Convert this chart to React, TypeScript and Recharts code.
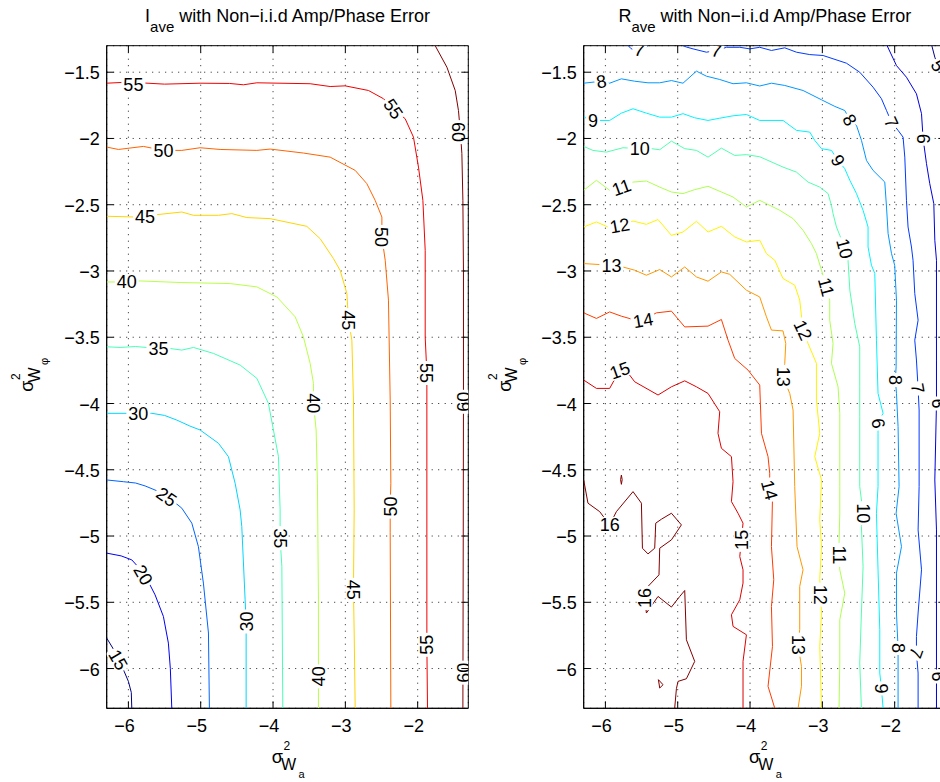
import React from 'react';
import { ScatterChart, Scatter, XAxis, YAxis, CartesianGrid, ReferenceArea } from 'recharts';

type P = [number, number];
type Lbl = { x: number; y: number; v: number; a: number };

const FONT = '"Liberation Sans", Arial, Helvetica, sans-serif';

// ---------- axes ----------
const xTicks = [-6, -5, -4, -3, -2];
const yTicks = [-6, -5.5, -5, -4.5, -4, -3.5, -3, -2.5, -2, -1.5];
const axisDomain: [number, number] = [-6.3, -1.3];

// ---------- left panel: I_ave contours ----------
const I15: P[] = [[-6.3,-5.77],[-6.2,-5.86],[-6.138,-5.933],[-6.06,-6.02],[-6.0,-6.097],[-5.96,-6.18],[-5.953,-6.3]];
const I20: P[] = [[-6.3,-5.129],[-6.1,-5.15],[-5.953,-5.18],[-5.87,-5.23],[-5.793,-5.293],[-5.7,-5.37],[-5.631,-5.444],[-5.516,-5.607],[-5.447,-5.808],[-5.42,-6.0],[-5.4,-6.3]];
const I25: P[] = [[-6.3,-4.577],[-6.069,-4.59],[-5.9,-4.6],[-5.769,-4.622],[-5.6,-4.66],[-5.469,-4.703],[-5.35,-4.75],[-5.261,-4.79],[-5.123,-4.903],[-5.032,-5.08],[-4.963,-5.355],[-4.893,-5.732],[-4.88,-6.3]];
const I30: P[] = [[-6.3,-4.074],[-6.0,-4.074],[-5.862,-4.074],[-5.676,-4.074],[-5.5,-4.09],[-5.331,-4.125],[-5.15,-4.17],[-5.008,-4.2],[-4.755,-4.3],[-4.617,-4.401],[-4.524,-4.602],[-4.455,-4.803],[-4.432,-4.929],[-4.386,-5.481],[-4.372,-5.645],[-4.372,-6.3]];
const I35: P[] = [[-6.3,-3.572],[-6.115,-3.577],[-5.9,-3.57],[-5.585,-3.585],[-5.423,-3.585],[-5.261,-3.597],[-5.1,-3.577],[-4.824,-3.622],[-4.455,-3.71],[-4.224,-3.81],[-4.064,-3.999],[-3.925,-4.401],[-3.902,-4.803],[-3.902,-5.016],[-3.878,-5.23],[-3.865,-6.3]];
const I40: P[] = [[-6.3,-3.083],[-6.022,-3.083],[-5.838,-3.075],[-5.285,-3.087],[-4.593,-3.095],[-4.224,-3.12],[-3.947,-3.196],[-3.694,-3.346],[-3.58,-3.497],[-3.487,-3.697],[-3.441,-3.848],[-3.441,-3.999],[-3.404,-4.2],[-3.386,-4.602],[-3.38,-4.979],[-3.372,-5.476],[-3.372,-6.3]];
const I45: P[] = [[-6.3,-2.587],[-5.884,-2.593],[-5.769,-2.587],[-5.607,-2.575],[-5.261,-2.555],[-5.1,-2.58],[-4.755,-2.58],[-4.57,-2.567],[-4.362,-2.597],[-4.04,-2.605],[-3.533,-2.663],[-3.349,-2.756],[-3.165,-2.906],[-3.072,-2.996],[-2.979,-3.17],[-2.957,-3.371],[-2.91,-3.522],[-2.888,-3.974],[-2.878,-4.803],[-2.888,-5.406],[-2.878,-5.732],[-2.864,-6.3]];
const I50: P[] = [[-6.3,-2.065],[-6.138,-2.083],[-5.793,-2.06],[-5.516,-2.09],[-5.261,-2.09],[-5.008,-2.07],[-4.732,-2.083],[-4.224,-2.09],[-4.04,-2.08],[-3.58,-2.11],[-3.21,-2.141],[-2.864,-2.241],[-2.703,-2.341],[-2.588,-2.467],[-2.495,-2.593],[-2.495,-2.743],[-2.449,-2.919],[-2.404,-3.22],[-2.38,-3.974],[-2.371,-4.602],[-2.38,-4.778],[-2.38,-4.976],[-2.371,-6.3]];
const I55: P[] = [[-6.3,-1.583],[-6.0,-1.575],[-5.5,-1.59],[-5.008,-1.583],[-4.6,-1.585],[-4.41,-1.595],[-4.224,-1.58],[-3.487,-1.587],[-3.21,-1.608],[-3.003,-1.603],[-2.68,-1.638],[-2.473,-1.7],[-2.335,-1.776],[-2.173,-1.851],[-2.058,-1.99],[-1.989,-2.216],[-1.928,-2.467],[-1.896,-2.844],[-1.896,-3.5],[-1.873,-3.77],[-1.873,-4.5],[-1.873,-5.821],[-1.864,-6.3]];
const I60: P[] = [[-1.758,-1.3],[-1.596,-1.462],[-1.481,-1.638],[-1.436,-1.789],[-1.41,-1.95],[-1.389,-2.113],[-1.375,-2.467],[-1.367,-3.0],[-1.367,-4.0],[-1.37,-5.0],[-1.375,-6.3]];

const iLevels = [15, 20, 25, 30, 35, 40, 45, 50, 55, 60];
const iColors = ['#000080', '#0000F1', '#0063FF', '#00D4FF', '#47FFB8', '#B8FF47', '#FFD400', '#FF6300', '#F10000', '#800000'];
const iLines: P[][] = [I15, I20, I25, I30, I35, I40, I45, I50, I55, I60];

const iLabels: Lbl[] = [
  { x: -5.931, y: -1.593, v: 55, a: 0 }, { x: -2.335, y: -1.776, v: 55, a: 55 }, { x: -1.873, y: -3.77, v: 55, a: 90 }, { x: -1.873, y: -5.821, v: 55, a: -90 },
  { x: -1.44, y: -1.952, v: 60, a: 90 }, { x: -1.367, y: -3.987, v: 60, a: -90 }, { x: -1.367, y: -6.031, v: 60, a: -90 },
  { x: -5.516, y: -2.09, v: 50, a: 0 }, { x: -2.495, y: -2.743, v: 50, a: 90 }, { x: -2.38, y: -4.778, v: 50, a: -90 },
  { x: -5.769, y: -2.587, v: 45, a: 0 }, { x: -2.957, y: -3.371, v: 45, a: 90 }, { x: -2.888, y: -5.406, v: 45, a: 90 },
  { x: -6.022, y: -3.083, v: 40, a: 0 }, { x: -3.441, y: -3.999, v: 40, a: 90 }, { x: -3.372, y: -6.059, v: 40, a: -90 },
  { x: -5.585, y: -3.585, v: 35, a: 0 }, { x: -3.902, y: -5.016, v: 35, a: 90 },
  { x: -5.862, y: -4.074, v: 30, a: 0 }, { x: -4.372, y: -5.645, v: 30, a: -90 },
  { x: -5.469, y: -4.703, v: 25, a: 35 },
  { x: -5.793, y: -5.293, v: 20, a: 60 },
  { x: -6.138, y: -5.933, v: 15, a: 60 },
];

// ---------- right panel: R_ave contours ----------
const R5: P[] = [[-1.491,-1.29],[-1.445,-1.387],[-1.378,-1.487],[-1.29,-1.6]];
const R6: P[] = [[-2.113,-1.29],[-1.975,-1.45],[-1.837,-1.538],[-1.699,-1.663],[-1.629,-1.813],[-1.607,-2.002],[-1.56,-2.19],[-1.515,-2.341],[-1.459,-2.492],[-1.445,-2.768],[-1.422,-2.919],[-1.422,-3.672],[-1.422,-4.0],[-1.445,-4.577],[-1.422,-4.954],[-1.422,-6.06],[-1.422,-6.3]];
const R7a: P[] = [[-5.7,-1.29],[-5.65,-1.32],[-5.609,-1.333],[-5.526,-1.33],[-5.45,-1.32],[-5.4,-1.29]];
const R7b: P[] = [[-4.972,-1.29],[-4.88,-1.31],[-4.788,-1.324],[-4.603,-1.349],[-4.465,-1.336],[-4.326,-1.312],[-4.142,-1.312],[-4.004,-1.324],[-3.866,-1.312],[-3.704,-1.336],[-3.52,-1.316],[-3.358,-1.349],[-3.174,-1.367],[-2.99,-1.374],[-2.667,-1.432],[-2.483,-1.5],[-2.299,-1.613],[-2.183,-1.7],[-2.113,-1.789],[-2.044,-1.877],[-1.953,-1.939],[-1.884,-1.99],[-1.86,-2.141],[-1.837,-2.467],[-1.815,-2.668],[-1.768,-2.819],[-1.746,-2.919],[-1.722,-3.17],[-1.676,-3.371],[-1.722,-3.522],[-1.699,-3.672],[-1.676,-3.886],[-1.662,-4.049],[-1.662,-4.627],[-1.676,-4.954],[-1.629,-5.255],[-1.676,-5.581],[-1.699,-5.758],[-1.699,-5.883],[-1.676,-6.034],[-1.676,-6.3]];
const R8: P[] = [[-6.3,-1.583],[-6.055,-1.568],[-5.941,-1.583],[-5.779,-1.55],[-5.595,-1.568],[-5.411,-1.58],[-5.249,-1.58],[-5.087,-1.563],[-4.927,-1.583],[-4.741,-1.492],[-4.603,-1.53],[-4.419,-1.555],[-4.235,-1.587],[-4.05,-1.58],[-3.866,-1.604],[-3.704,-1.583],[-3.52,-1.6],[-3.267,-1.638],[-3.012,-1.708],[-2.828,-1.758],[-2.69,-1.789],[-2.62,-1.859],[-2.528,-1.902],[-2.459,-2.015],[-2.39,-2.166],[-2.299,-2.241],[-2.137,-2.329],[-2.113,-2.517],[-2.091,-2.718],[-2.044,-2.868],[-2.0,-2.957],[-1.975,-3.22],[-1.98,-3.723],[-1.99,-3.823],[-1.975,-3.924],[-1.953,-4.175],[-1.939,-4.627],[-1.98,-4.828],[-1.906,-5.08],[-1.975,-5.28],[-1.975,-5.581],[-1.953,-5.845],[-1.953,-6.3]];
const R9: P[] = [[-6.3,-1.839],[-6.172,-1.864],[-5.941,-1.864],[-5.779,-1.809],[-5.618,-1.776],[-5.433,-1.809],[-5.249,-1.839],[-5.087,-1.839],[-4.927,-1.813],[-4.765,-1.844],[-4.581,-1.864],[-4.419,-1.847],[-4.235,-1.829],[-4.05,-1.819],[-3.866,-1.864],[-3.544,-1.864],[-3.358,-1.939],[-3.174,-1.952],[-3.105,-2.015],[-3.012,-2.077],[-2.874,-2.09],[-2.783,-2.165],[-2.69,-2.228],[-2.62,-2.316],[-2.528,-2.416],[-2.437,-2.542],[-2.368,-2.668],[-2.368,-2.819],[-2.321,-2.957],[-2.275,-3.019],[-2.252,-3.522],[-2.23,-3.924],[-2.16,-4.074],[-2.23,-4.15],[-2.23,-4.225],[-2.23,-4.627],[-2.252,-4.828],[-2.23,-5.255],[-2.206,-5.707],[-2.206,-6.034],[-2.183,-6.15],[-2.16,-6.3]];
const R10: P[] = [[-6.3,-2.06],[-6.172,-2.09],[-5.986,-2.103],[-5.757,-2.07],[-5.526,-2.077],[-5.364,-2.077],[-5.249,-2.085],[-5.087,-2.02],[-4.903,-2.077],[-4.741,-2.09],[-4.581,-2.141],[-4.396,-2.073],[-4.212,-2.128],[-4.05,-2.122],[-3.866,-2.138],[-3.544,-2.216],[-3.358,-2.254],[-3.198,-2.329],[-3.036,-2.367],[-2.921,-2.416],[-2.874,-2.505],[-2.852,-2.567],[-2.805,-2.668],[-2.759,-2.731],[-2.69,-2.831],[-2.645,-2.919],[-2.62,-3.145],[-2.552,-3.396],[-2.483,-3.572],[-2.483,-3.874],[-2.483,-4.1],[-2.483,-4.627],[-2.437,-4.828],[-2.46,-4.929],[-2.437,-5.23],[-2.46,-5.581],[-2.483,-5.958],[-2.46,-6.3]];
const R11: P[] = [[-6.3,-2.391],[-6.124,-2.316],[-5.941,-2.391],[-5.779,-2.367],[-5.618,-2.329],[-5.433,-2.321],[-5.249,-2.367],[-5.087,-2.404],[-4.927,-2.416],[-4.765,-2.386],[-4.581,-2.361],[-4.396,-2.404],[-4.235,-2.442],[-4.05,-2.517],[-3.866,-2.467],[-3.589,-2.542],[-3.405,-2.605],[-3.267,-2.693],[-3.151,-2.793],[-3.082,-2.869],[-3.012,-2.994],[-2.943,-3.12],[-2.898,-3.22],[-2.898,-3.371],[-2.852,-3.547],[-2.874,-3.697],[-2.783,-3.874],[-2.759,-4.074],[-2.759,-4.627],[-2.759,-4.828],[-2.769,-5.054],[-2.769,-5.142],[-2.759,-5.255],[-2.69,-5.431],[-2.759,-5.632],[-2.759,-5.958],[-2.769,-6.3]];
const R12: P[] = [[-6.3,-2.668],[-6.124,-2.63],[-5.964,-2.668],[-5.802,-2.655],[-5.618,-2.623],[-5.433,-2.648],[-5.272,-2.612],[-5.087,-2.731],[-4.927,-2.706],[-4.741,-2.625],[-4.581,-2.706],[-4.396,-2.663],[-4.212,-2.743],[-4.05,-2.781],[-3.866,-2.768],[-3.773,-2.869],[-3.658,-2.919],[-3.544,-3.057],[-3.382,-3.107],[-3.313,-3.22],[-3.267,-3.446],[-3.198,-3.547],[-3.082,-3.697],[-3.082,-3.974],[-3.036,-4.225],[-3.105,-4.401],[-3.012,-4.577],[-3.036,-4.878],[-3.012,-5.08],[-3.036,-5.323],[-3.026,-5.443],[-3.012,-5.581],[-3.036,-5.833],[-3.012,-6.3]];
const R13: P[] = [[-6.3,-2.944],[-5.917,-2.957],[-5.757,-2.97],[-5.595,-2.994],[-5.433,-3.032],[-5.249,-2.989],[-5.087,-3.045],[-4.903,-2.97],[-4.741,-3.045],[-4.581,-3.077],[-4.396,-3.007],[-4.281,-3.025],[-4.05,-3.145],[-3.866,-3.196],[-3.773,-3.346],[-3.704,-3.446],[-3.544,-3.452],[-3.506,-3.547],[-3.52,-3.697],[-3.544,-3.798],[-3.451,-3.924],[-3.405,-4.049],[-3.382,-4.627],[-3.35,-5.08],[-3.267,-5.255],[-3.313,-5.381],[-3.313,-5.707],[-3.336,-5.82],[-3.289,-5.984],[-3.289,-6.134],[-3.336,-6.3]];
const R14: P[] = [[-6.3,-3.316],[-6.124,-3.358],[-5.941,-3.309],[-5.779,-3.341],[-5.618,-3.366],[-5.48,-3.371],[-5.295,-3.316],[-5.087,-3.303],[-4.903,-3.422],[-4.581,-3.416],[-4.396,-3.366],[-4.304,-3.522],[-4.212,-3.66],[-4.028,-3.748],[-3.866,-3.861],[-3.842,-4.225],[-3.751,-4.401],[-3.728,-4.526],[-3.728,-4.652],[-3.69,-4.728],[-3.704,-5.08],[-3.672,-5.33],[-3.704,-5.532],[-3.69,-5.833],[-3.751,-6.134],[-3.658,-6.3]];
const R15: P[] = [[-6.3,-3.823],[-6.124,-3.886],[-5.941,-3.886],[-5.802,-3.748],[-5.664,-3.786],[-5.595,-3.836],[-5.272,-3.936],[-5.087,-3.874],[-4.903,-3.829],[-4.741,-3.874],[-4.581,-3.924],[-4.419,-4.062],[-4.443,-4.225],[-4.396,-4.338],[-4.257,-4.401],[-4.235,-4.59],[-4.257,-4.74],[-4.166,-4.828],[-4.097,-4.903],[-4.119,-5.029],[-4.142,-5.155],[-4.097,-5.255],[-4.097,-5.355],[-4.142,-5.481],[-4.257,-5.594],[-4.235,-5.682],[-4.05,-5.745],[-4.097,-5.946],[-4.097,-6.3]];
const R16a: P[] = [[-6.3,-4.577],[-6.241,-4.752],[-6.079,-4.816],[-5.941,-4.916],[-5.848,-4.816],[-5.618,-4.665],[-5.502,-4.752],[-5.488,-5.092],[-5.411,-5.135],[-5.318,-5.092],[-5.304,-4.903],[-5.225,-4.873],[-5.087,-4.828],[-4.949,-4.916],[-5.087,-5.029],[-5.249,-5.092],[-5.259,-5.293],[-5.433,-5.393],[-5.456,-5.468],[-5.433,-5.581],[-5.272,-5.456],[-5.087,-5.536],[-4.972,-5.456],[-4.903,-5.411],[-4.88,-5.783],[-4.765,-5.946],[-4.88,-6.077],[-4.996,-6.097],[-5.018,-6.152],[-5.042,-6.3]];
const R16b: P[] = [[-5.779,-4.54],[-5.768,-4.575],[-5.779,-4.61],[-5.79,-4.575],[-5.779,-4.54]];
const R16c: P[] = [[-5.267,-6.084],[-5.203,-6.122],[-5.249,-6.147],[-5.267,-6.084]];

const rLevels = [5, 6, 7, 7, 8, 9, 10, 11, 12, 13, 14, 15, 16, 16, 16];
const rLines: P[][] = [R5, R6, R7a, R7b, R8, R9, R10, R11, R12, R13, R14, R15, R16a, R16b, R16c];
const rColorOf: Record<number, string> = {
  5: '#000080', 6: '#0000DC', 7: '#003AFF', 8: '#0097FF', 9: '#00F3FF', 10: '#51FFAE',
  11: '#AEFF51', 12: '#FFF300', 13: '#FF9700', 14: '#FF3A00', 15: '#DC0000', 16: '#800000',
};

const rLabels: Lbl[] = [
  { x: -1.40, y: -1.45, v: 5, a: 60 },
  { x: -1.607, y: -2.002, v: 6, a: 90 }, { x: -1.39, y: -4.0, v: 6, a: 90 }, { x: -1.39, y: -6.06, v: 6, a: 90 },
  { x: -5.53, y: -1.33, v: 7, a: 10 }, { x: -4.465, y: -1.336, v: 7, a: 10 }, { x: -2.044, y: -1.877, v: 7, a: 65 }, { x: -1.676, y: -3.886, v: 7, a: 80 }, { x: -1.699, y: -5.883, v: 7, a: 110 },
  { x: -6.055, y: -1.568, v: 8, a: -10 }, { x: -2.62, y: -1.859, v: 8, a: 60 }, { x: -1.99, y: -3.823, v: 8, a: 90 }, { x: -1.953, y: -5.845, v: 8, a: 90 },
  { x: -6.172, y: -1.864, v: 9, a: 0 }, { x: -2.783, y: -2.165, v: 9, a: 60 }, { x: -2.23, y: -4.15, v: 9, a: -100 }, { x: -2.183, y: -6.15, v: 9, a: 90 },
  { x: -5.526, y: -2.077, v: 10, a: 0 }, { x: -2.69, y: -2.831, v: 10, a: 75 }, { x: -2.437, y: -4.828, v: 10, a: 90 },
  { x: -5.779, y: -2.367, v: 11, a: -20 }, { x: -2.943, y: -3.12, v: 11, a: 75 }, { x: -2.769, y: -5.142, v: 11, a: 90 },
  { x: -5.802, y: -2.655, v: 12, a: -10 }, { x: -3.267, y: -3.446, v: 12, a: 65 }, { x: -3.026, y: -5.443, v: 12, a: 90 },
  { x: -5.917, y: -2.957, v: 13, a: 0 }, { x: -3.544, y: -3.798, v: 13, a: 90 }, { x: -3.336, y: -5.82, v: 13, a: 90 },
  { x: -5.48, y: -3.371, v: 14, a: -10 }, { x: -3.728, y: -4.652, v: 14, a: 75 },
  { x: -5.802, y: -3.748, v: 15, a: -20 }, { x: -4.119, y: -5.029, v: 15, a: -90 },
  { x: -5.941, y: -4.916, v: 16, a: 0 }, { x: -5.456, y: -5.468, v: 16, a: -90 },
];

// ---------- layout ----------
const CW = 480;
const CH = 782;
const YW = 106.7;
const TOP = 45.7;
const PW = 361.6;
const PH = 662.6;
const XH = CH - TOP - PH;
const RIGHT_OFFSET = 477.3;

const fmt = (v: number) => (v < 0 ? '\u2212' : '') + String(Math.abs(v));

const YTick = (props: any) => {
  const { x, y, payload } = props;
  return (
    <g>
      <line x1={x} y1={y} x2={x + 7} y2={y} stroke="#000" strokeWidth={1} />
      <line x1={x + PW} y1={y} x2={x + PW - 7} y2={y} stroke="#000" strokeWidth={1} />
      <text x={x - 7} y={y + 7} textAnchor="end" fontSize={18} fontFamily={FONT} fill="#000">{fmt(payload.value)}</text>
    </g>
  );
};

const XTick = (props: any) => {
  const { x, y, payload } = props;
  return (
    <g>
      <line x1={x} y1={y} x2={x} y2={y - 7} stroke="#000" strokeWidth={1} />
      <line x1={x} y1={y - PH} x2={x} y2={y - PH + 7} stroke="#000" strokeWidth={1} />
      <text x={x - 4} y={y + 24} textAnchor="middle" fontSize={18} fontFamily={FONT} fill="#000">{fmt(payload.value)}</text>
    </g>
  );
};

const NoDot = () => <g />;

const LabelShape = (props: any) => {
  const { cx, cy, payload } = props;
  const t = String(payload.v);
  const w = t.length * 10 + 4;
  return (
    <g transform={`translate(${cx},${cy}) rotate(${payload.a})`}>
      <rect x={-w / 2} y={-8} width={w} height={16} fill="#fff" />
      <text x={0} y={6.5} textAnchor="middle" fontSize={18} fontFamily={FONT} fill="#000">{t}</text>
    </g>
  );
};

const toPts = (a: P[]) => a.map(([x, y]) => ({ x, y }));

function Panel({ lines, colors, labels }: { lines: P[][]; colors: string[]; labels: Lbl[] }) {
  return (
    <ScatterChart width={CW} height={CH} margin={{ top: TOP, right: CW - YW - PW, bottom: 0, left: 0 }}>
      <CartesianGrid stroke="#222" strokeDasharray="1 5.5" strokeWidth={1} />
      <XAxis
        type="number" dataKey="x" domain={axisDomain} ticks={xTicks} allowDataOverflow interval={0}
        height={XH} tickSize={0} tickMargin={0} tickLine={false} tick={<XTick />}
        axisLine={{ stroke: '#000', strokeWidth: 1 }}
      />
      <YAxis
        type="number" dataKey="y" domain={axisDomain} ticks={yTicks} allowDataOverflow interval={0}
        width={YW} tickSize={0} tickMargin={0} tickLine={false} tick={<YTick />}
        axisLine={{ stroke: '#000', strokeWidth: 1 }}
      />
      <ReferenceArea x1={-6.3} x2={-1.3} y1={-6.3} y2={-1.3} fill="none" fillOpacity={0} stroke="#000" strokeWidth={1} />
      {lines.map((pts, i) => (
        <Scatter
          key={i}
          data={toPts(pts)}
          fill={colors[i]}
          line={{ stroke: colors[i], strokeWidth: 1 }}
          lineType="joint"
          shape={NoDot}
          isAnimationActive={false}
        />
      ))}
      <Scatter data={labels} shape={LabelShape} isAnimationActive={false} fill="#000" />
    </ScatterChart>
  );
}

function AxisSym({ x, y, sub }: { x: number; y: number; sub: string }) {
  return (
    <g fontFamily={FONT} fill="#000">
      <text x={x} y={y} fontSize={18}>σ</text>
      <text x={x + 11.8} y={y - 13.3} fontSize={12}>2</text>
      <text x={x + 9.3} y={y + 6.7} fontSize={16}>W</text>
      <text x={x + 26.8} y={y + 15} fontSize={11}>{sub}</text>
    </g>
  );
}

function Title({ cx, letter }: { cx: number; letter: string }) {
  return (
    <text x={cx} y={22} textAnchor="middle" fontSize={18} fontFamily={FONT} fill="#000">
      {letter}
      <tspan fontSize={15} dy={9.7}>ave</tspan>
      <tspan dy={-9.7}>{' with Non\u2212i.i.d Amp/Phase Error'}</tspan>
    </text>
  );
}

export default function App() {
  const rColors = rLevels.map((l) => rColorOf[l]);
  const leftCx = YW + PW / 2;
  const rightCx = RIGHT_OFFSET + YW + PW / 2;
  return (
    <div style={{ position: 'absolute', left: 0, top: 0, width: 940, height: 782, overflow: 'hidden', background: '#fff' }}>
      <div style={{ position: 'absolute', left: 0, top: 0 }}>
        <Panel lines={iLines} colors={iColors} labels={iLabels} />
      </div>
      <div style={{ position: 'absolute', left: RIGHT_OFFSET, top: 0 }}>
        <Panel lines={rLines} colors={rColors} labels={rLabels} />
      </div>
      <svg width={940} height={782} style={{ position: 'absolute', left: 0, top: 0, pointerEvents: 'none' }}>
        <Title cx={leftCx} letter="I" />
        <Title cx={rightCx} letter="R" />
        <AxisSym x={leftCx - 15.8} y={763.3} sub="a" />
        <AxisSym x={rightCx - 15.8} y={763.3} sub="a" />
        <g transform="translate(33.3,391.7) rotate(-90)">
          <AxisSym x={0} y={0} sub="φ" />
        </g>
        <g transform={`translate(${33.3 + RIGHT_OFFSET},391.7) rotate(-90)`}>
          <AxisSym x={0} y={0} sub="φ" />
        </g>
      </svg>
    </div>
  );
}
